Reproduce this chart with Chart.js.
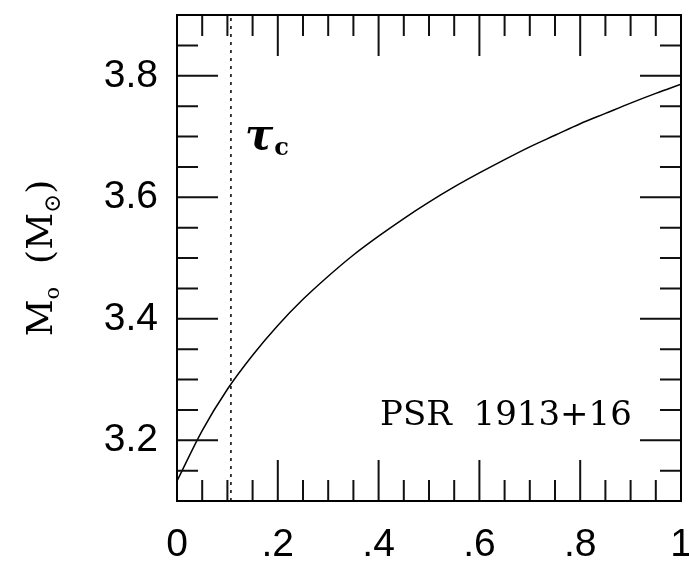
<!DOCTYPE html>
<html>
<head>
<meta charset="utf-8">
<script src="https://cdn.jsdelivr.net/npm/chart.js@4/dist/chart.umd.min.js"></script>
<style>
  html, body { margin: 0; padding: 0; background: #fff; }
  #wrap { width: 689px; height: 571px; }
</style>
</head>
<body>
<div id="wrap"><canvas id="massChart" width="689" height="571"></canvas></div>
<script>
// values
const orbitX = [0, 0.05, 0.1, 0.15, 0.2, 0.25, 0.3, 0.35, 0.4, 0.45, 0.5,
                0.55, 0.6, 0.65, 0.7, 0.75, 0.8, 0.85, 0.9, 0.95, 1];
const massY = [3.133, 3.216, 3.284, 3.340, 3.389, 3.432, 3.470, 3.505, 3.536, 3.565, 3.592,
               3.617, 3.640, 3.662, 3.683, 3.702, 3.721, 3.738, 3.755, 3.771, 3.786];
const tauX = [0.107, 0.107];
const tauY = [3.1, 3.9];

const xMajor = [0, 0.2, 0.4, 0.6, 0.8, 1];
const xMinor = [0.05, 0.1, 0.15, 0.25, 0.3, 0.35, 0.45, 0.5, 0.55, 0.65, 0.7, 0.75, 0.85, 0.9, 0.95];
const yMajor = [3.2, 3.4, 3.6, 3.8];
const yMinor = [3.15, 3.25, 3.3, 3.35, 3.45, 3.5, 3.55, 3.65, 3.7, 3.75, 3.85];

const SANS = '"Liberation Sans", Arial, sans-serif';
const SERIF = '"DejaVu Serif", serif';

// frame + inward ticks on all four sides, and the text labels
const framePlugin = {
  id: 'frame',
  afterDraw(chart) {
    const { ctx, chartArea: a, scales: { x, y } } = chart;
    ctx.save();
    ctx.strokeStyle = '#111';
    ctx.lineWidth = 2;
    ctx.beginPath();
    const tick = (vals, len) => {
      vals.forEach(v => {
        const px = x.getPixelForValue(v);
        ctx.moveTo(px, a.bottom); ctx.lineTo(px, a.bottom - len);
        ctx.moveTo(px, a.top); ctx.lineTo(px, a.top + len);
      });
    };
    const ytick = (vals, len) => {
      vals.forEach(v => {
        const py = y.getPixelForValue(v);
        ctx.moveTo(a.left, py); ctx.lineTo(a.left + len, py);
        ctx.moveTo(a.right, py); ctx.lineTo(a.right - len, py);
      });
    };
    tick(xMajor, 41); tick(xMinor, 21);
    ytick(yMajor, 41); ytick(yMinor, 21);
    ctx.stroke();
    ctx.strokeStyle = '#000';
    ctx.strokeRect(a.left, a.top, a.right - a.left, a.bottom - a.top);

    // PSR label
    ctx.fillStyle = '#000';
    ctx.font = '34px ' + SERIF;
    ctx.textBaseline = 'alphabetic';
    ctx.textAlign = 'left';
    ctx.fillText('PSR  1913+16', x.getPixelForValue(0.403), y.getPixelForValue(3.225));

    // tau_c label
    const tx = x.getPixelForValue(0.135), ty = y.getPixelForValue(3.68);
    ctx.font = 'italic bold 42px ' + SERIF;
    ctx.fillText('\u03c4', tx, ty);
    const tw = ctx.measureText('\u03c4').width;
    ctx.font = 'bold 24px ' + SERIF;
    ctx.fillText('c', tx + tw + 1, ty + 6);

    // y axis title, rotated
    ctx.translate(52, y.getPixelForValue(3.5));
    ctx.rotate(-Math.PI / 2);
    const parts = [
      ['M', 36, 0], ['o', 21, 7], ['  (M', 36, 0], ['\u2299', 23, 8], [')', 36, 0]
    ];
    let total = 0;
    parts.forEach(p => { ctx.font = p[1] + 'px ' + SERIF; total += ctx.measureText(p[0]).width; });
    let cx = -total / 2;
    parts.forEach(p => {
      ctx.font = p[1] + 'px ' + SERIF;
      ctx.fillText(p[0], cx, p[2]);
      cx += ctx.measureText(p[0]).width;
    });
    ctx.restore();
  }
};

const fixBox = (w, h) => s => {
  if (w !== null) s.width = w;
  if (h !== null) s.height = h;
  s.paddingLeft = 0; s.paddingRight = 0; s.paddingTop = 0; s.paddingBottom = 0;
};

new Chart(document.getElementById('massChart'), {
  type: 'line',
  data: {
    datasets: [
      {
        data: orbitX.map((v, i) => ({ x: v, y: massY[i] })),
        borderColor: '#000',
        borderWidth: 1.5,
        pointRadius: 0,
        cubicInterpolationMode: 'monotone'
      },
      {
        data: tauX.map((v, i) => ({ x: v, y: tauY[i] })),
        borderColor: '#000',
        borderWidth: 1.5,
        borderDash: [3, 5],
        pointRadius: 0
      }
    ]
  },
  options: {
    responsive: false,
    animation: false,
    layout: { padding: { top: 15, right: 8, left: 0, bottom: 0 } },
    plugins: { legend: { display: false }, tooltip: { enabled: false } },
    scales: {
      x: {
        type: 'linear',
        min: 0, max: 1,
        grid: { display: false, drawTicks: false },
        border: { display: false },
        afterFit: fixBox(null, 70),
        afterBuildTicks: s => { s.ticks = xMajor.map(v => ({ value: v })); },
        ticks: {
          padding: 21,
          color: '#000',
          font: { family: SANS, size: 39 },
          maxRotation: 0,
          autoSkip: false,
          callback: v => v === 0 ? '0' : v === 1 ? '1' : String(v.toFixed(1)).replace(/^0/, '')
        }
      },
      y: {
        type: 'linear',
        min: 3.1, max: 3.9,
        grid: { display: false, drawTicks: false },
        border: { display: false },
        afterFit: fixBox(177, null),
        afterBuildTicks: s => { s.ticks = yMajor.map(v => ({ value: v })); },
        ticks: {
          padding: 19,
          color: '#000',
          font: { family: SANS, size: 39 },
          autoSkip: false,
          callback: v => v.toFixed(1)
        }
      }
    }
  },
  plugins: [framePlugin]
});
</script>
</body>
</html>
